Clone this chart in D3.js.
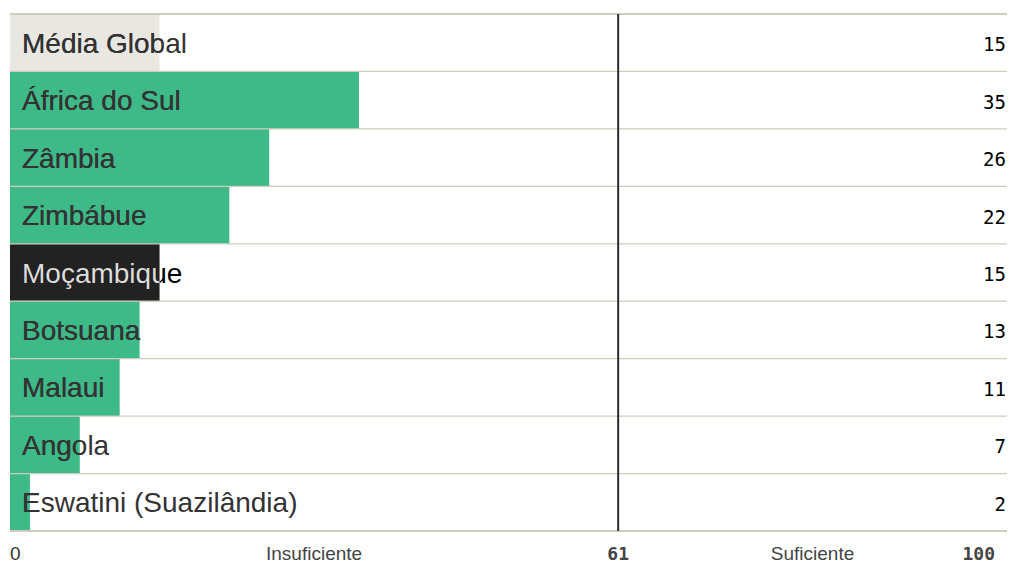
<!DOCTYPE html>
<html>
<head>
<meta charset="utf-8">
<script src="https://cdn.jsdelivr.net/npm/d3@7"></script>
<style>
  body { margin: 0; background: #fff; }
  svg { display: block; }
  .label { font-family: "Liberation Sans", Arial, sans-serif; font-size: 28px; fill: #333; }
  .value { font-family: "DejaVu Sans Mono", monospace; font-size: 19px; fill: #000; }
  .zone { font-family: "Liberation Sans", Arial, sans-serif; font-size: 19px; fill: #444; }
  .tick { font-family: "DejaVu Sans Mono", monospace; font-size: 18px; font-weight: bold; fill: #444; }
</style>
</head>
<body>
<svg id="chart"></svg>
<script>
const
  chartWidth = 1009,
  chartHeight = 563,
  xStart = 10,        // position of 0
  xEnd = 1007,        // position of 100
  yTop = 14,          // first separator line
  yBottom = 531,      // last separator line
  axisY = 559.5;      // baseline of the bottom labels

// =====================
// Data
// =====================
const countries = ['Média Global', 'África do Sul', 'Zâmbia', 'Zimbábue', 'Moçambique', 'Botsuana', 'Malaui', 'Angola', 'Eswatini (Suazilândia)'];
const scores = [15, 35, 26, 22, 15, 13, 11, 7, 2];
const kinds = ['global', 'other', 'other', 'other', 'focus', 'other', 'other', 'other', 'other'];
const threshold = 61;
const zones = ['Insuficiente', 'Suficiente'];

const fills = { global: '#e9e7e2', other: '#3dba88', focus: '#222222' };
const textIn = { global: '#333', other: '#333', focus: '#ddd' };

const data = countries.map((c, i) => ({ name: c, score: scores[i], kind: kinds[i], i: i }));

const svg = d3.select('#chart').attr('width', chartWidth).attr('height', chartHeight);

const x = d3.scaleLinear([0, 100], [xStart, xEnd]);
const y = d3.scaleBand(countries, [yTop, yBottom]);

// bars
svg.selectAll('rect.bar')
  .data(data)
  .enter()
  .append('rect')
  .attr('class', 'bar')
  .attr('x', x(0))
  .attr('y', d => y(d.name))
  .attr('width', d => x(d.score) - x(0))
  .attr('height', y.bandwidth())
  .style('fill', d => fills[d.kind]);

// clip paths for text inside bars
const defs = svg.append('defs');
defs.selectAll('clipPath')
  .data(data)
  .enter()
  .append('clipPath')
  .attr('id', d => 'clip' + d.i)
  .append('rect')
  .attr('x', x(0))
  .attr('y', d => y(d.name))
  .attr('width', d => x(d.score) - x(0))
  .attr('height', y.bandwidth());

// separators
svg.selectAll('line.sep')
  .data(d3.range(countries.length + 1))
  .enter()
  .append('line')
  .attr('class', 'sep')
  .attr('x1', xStart)
  .attr('x2', xEnd)
  .attr('y1', i => yTop + i * y.bandwidth())
  .attr('y2', i => yTop + i * y.bandwidth())
  .style('stroke', '#cfccc0')
  .style('stroke-width', i => (i === 0 || i === countries.length) ? 2 : 1.2);

// labels (outside colour)
svg.selectAll('text.label')
  .data(data)
  .enter()
  .append('text')
  .attr('class', 'label')
  .attr('x', 22)
  .attr('y', d => y(d.name) + y.bandwidth() / 2 + 10)
  .style('fill', d => d.kind === 'focus' ? '#000' : '#333')
  .text(d => d.name);

// labels (inside colour, clipped to bar)
svg.selectAll('text.labelIn')
  .data(data)
  .enter()
  .append('text')
  .attr('class', 'label labelIn')
  .attr('clip-path', d => 'url(#clip' + d.i + ')')
  .attr('x', 22)
  .attr('y', d => y(d.name) + y.bandwidth() / 2 + 10)
  .style('fill', d => textIn[d.kind])
  .text(d => d.name);

// values
svg.selectAll('text.value')
  .data(data)
  .enter()
  .append('text')
  .attr('class', 'value')
  .attr('x', 1006)
  .attr('y', d => y(d.name) + y.bandwidth() / 2 + 8.5)
  .attr('text-anchor', 'end')
  .text(d => d.score);

// threshold line
svg.append('line')
  .attr('x1', x(threshold))
  .attr('x2', x(threshold))
  .attr('y1', yTop)
  .attr('y2', yBottom)
  .style('stroke', '#2a2d30')
  .style('stroke-width', 2);

// bottom axis labels
svg.append('text')
  .attr('class', 'zone')
  .attr('x', x(0))
  .attr('y', axisY)
  .style('fill', '#333')
  .text('0');

svg.append('text')
  .attr('class', 'tick')
  .attr('x', x(threshold))
  .attr('y', axisY)
  .attr('text-anchor', 'middle')
  .text(threshold);

svg.append('text')
  .attr('class', 'tick')
  .attr('x', x(100) - 12)
  .attr('y', axisY)
  .attr('text-anchor', 'end')
  .text('100');

svg.selectAll('text.zoneLabel')
  .data([[0, threshold], [threshold, 100]])
  .enter()
  .append('text')
  .attr('class', 'zone zoneLabel')
  .attr('x', (d) => x((d[0] + d[1]) / 2))
  .attr('y', axisY)
  .attr('text-anchor', 'middle')
  .text((d, i) => zones[i]);
</script>
</body>
</html>
